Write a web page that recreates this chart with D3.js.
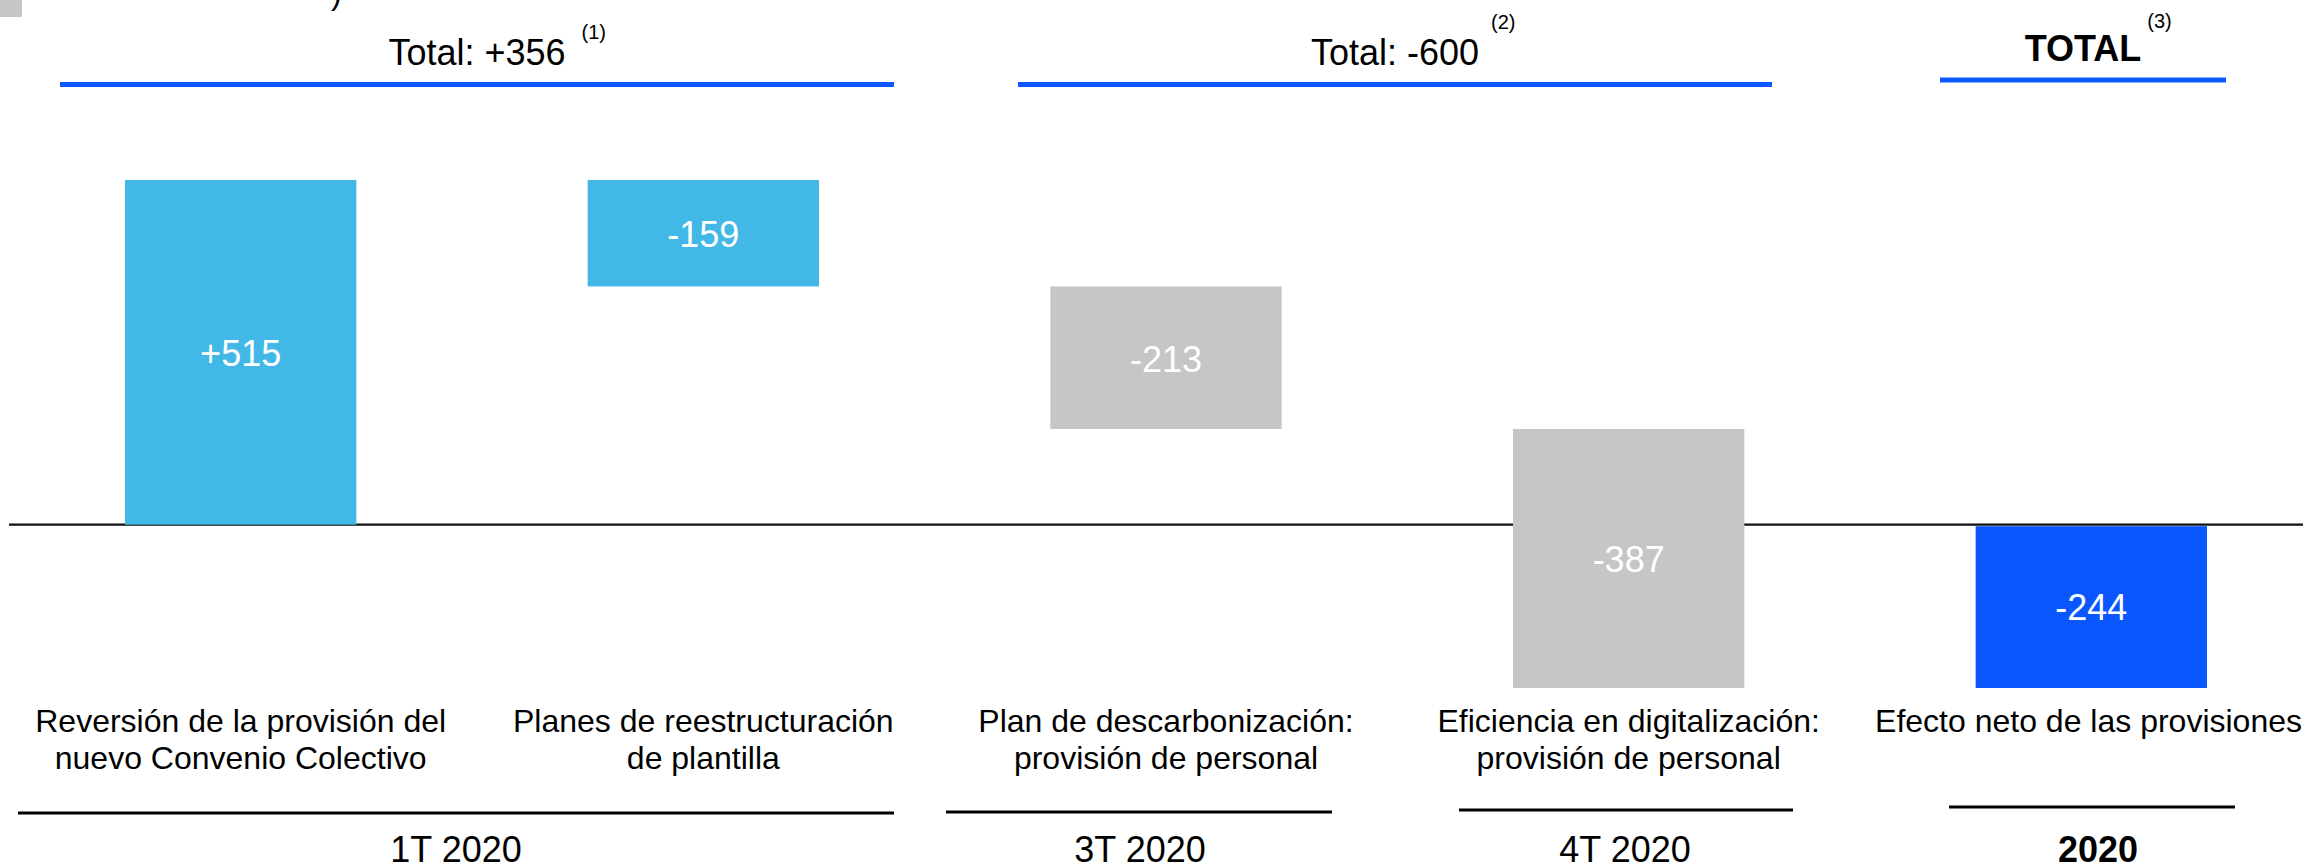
<!DOCTYPE html>
<html>
<head>
<meta charset="utf-8">
<script src="https://cdn.jsdelivr.net/npm/d3@7"></script>
<style>
  html, body { margin: 0; padding: 0; background: #ffffff; }
  svg { display: block; }
  text { font-family: "Liberation Sans", Arial, Helvetica, sans-serif; }
</style>
</head>
<body>
<svg id="chart" width="2303" height="867"></svg>
<script>
// ---------------- DATA ----------------
const categories = [
  ["Reversión de la provisión del", "nuevo Convenio Colectivo"],
  ["Planes de reestructuración", "de plantilla"],
  ["Plan de descarbonización:", "provisión de personal"],
  ["Eficiencia en digitalización:", "provisión de personal"],
  ["Efecto neto de las provisiones"]
];
const values = [515, -159, -213, -387, -244];
const barLabels = ["+515", "-159", "-213", "-387", "-244"];
const isTotal = [false, false, false, false, true];
const barKinds = ["h1", "h1", "h2", "h2", "total"];

const groupTitles = ["Total: +356", "Total: -600", "TOTAL"];
const groupNotes = ["(1)", "(2)", "(3)"];
const periods = ["1T 2020", "3T 2020", "4T 2020", "2020"];

// ---------------- STYLE / LAYOUT ----------------
const W = 2303, H = 867;
const colors = { h1: "#41B8E6", h2: "#C6C6C6", total: "#0A57FF" };
const lineBlue = "#0A57FF";

const headerLayout = [
  { x0: 60, x1: 894, y: 84.5, base: 65, noteBase: 39, noteGap: 16, bold: false },
  { x0: 1018, x1: 1772, y: 84.5, base: 65, noteBase: 29, noteGap: 12, bold: false },
  { x0: 1940, x1: 2226, y: 80, base: 61, noteBase: 28, noteGap: 6, bold: true }
];
const periodLayout = [
  { x0: 18, x1: 894, y: 813, cx: 456, bold: false },
  { x0: 946, x1: 1332, y: 812, cx: 1140, bold: false },
  { x0: 1459, x1: 1793, y: 810, cx: 1625, bold: false },
  { x0: 1949, x1: 2235, y: 807, cx: 2098, bold: true }
];

// ---------------- COMPUTE WATERFALL ----------------
let running = 0;
const bars = values.map((v, i) => {
  let start, end;
  if (isTotal[i]) { start = 0; end = v; running = v; }
  else { start = running; end = running + v; running = end; }
  return { i, v, start, end, label: barLabels[i], kind: barKinds[i], cat: categories[i] };
});

// ---------------- SCALES ----------------
const x = d3.scaleBand()
  .domain(d3.range(values.length))
  .range([125, 2207])
  .paddingInner(0.5)
  .paddingOuter(0);

const yMin = d3.min(bars, d => Math.min(d.start, d.end));
const yMax = d3.max(bars, d => Math.max(d.start, d.end));
const y = d3.scaleLinear().domain([yMin, yMax]).range([688, 180]);

const svg = d3.select("#chart");

// corner square & cut-off title remnant
svg.append("rect").attr("x", 0).attr("y", 0).attr("width", 22).attr("height", 17).attr("fill", "#C6C6C6");
svg.append("text").attr("x", 331).attr("y", 4).attr("font-size", 32).attr("fill", "#000").text(")");

// zero line
svg.append("line")
  .attr("x1", 9).attr("x2", W)
  .attr("y1", y(0)).attr("y2", y(0))
  .attr("stroke", "#111").attr("stroke-width", 2.3);

// bars
svg.selectAll("rect.bar")
  .data(bars)
  .join("rect")
  .attr("class", "bar")
  .attr("x", d => x(d.i))
  .attr("width", x.bandwidth())
  .attr("y", d => y(Math.max(d.start, d.end)) + (d.kind === "total" ? 1.5 : 0))
  .attr("height", d => Math.abs(y(d.start) - y(d.end)) - (d.kind === "total" ? 1.5 : 0))
  .attr("fill", d => colors[d.kind]);

// bar value labels
svg.selectAll("text.val")
  .data(bars)
  .join("text")
  .attr("class", "val")
  .attr("x", d => x(d.i) + x.bandwidth() / 2)
  .attr("y", d => (y(d.start) + y(d.end)) / 2 + 14)
  .attr("text-anchor", "middle")
  .attr("font-size", 36)
  .attr("fill", "#ffffff")
  .text(d => d.label);

// category labels
svg.selectAll("text.cat")
  .data(bars)
  .join("text")
  .attr("class", "cat")
  .attr("y", 732)
  .attr("text-anchor", "middle")
  .attr("font-size", 32)
  .attr("fill", "#000")
  .each(function (d) {
    const t = d3.select(this);
    d.cat.forEach((line, k) => {
      t.append("tspan")
        .attr("x", x(d.i) + x.bandwidth() / 2)
        .attr("dy", k === 0 ? 0 : 36.5)
        .text(line);
    });
    // keep the label inside the picture
    const bb = this.getBBox();
    if (bb.x + bb.width > W - 1) {
      const shift = bb.x + bb.width - (W - 1);
      t.selectAll("tspan").attr("x", x(d.i) + x.bandwidth() / 2 - shift);
    }
  });

// headers
headerLayout.forEach((h, i) => {
  svg.append("line")
    .attr("x1", h.x0).attr("x2", h.x1)
    .attr("y1", h.y).attr("y2", h.y)
    .attr("stroke", lineBlue).attr("stroke-width", 5);
  const cx = (h.x0 + h.x1) / 2;
  const t = svg.append("text")
    .attr("x", cx).attr("y", h.base)
    .attr("text-anchor", "middle")
    .attr("font-size", 36)
    .attr("font-weight", h.bold ? "bold" : "normal")
    .attr("fill", "#000")
    .text(groupTitles[i]);
  const w = t.node().getComputedTextLength();
  svg.append("text")
    .attr("x", cx + w / 2 + h.noteGap).attr("y", h.noteBase)
    .attr("font-size", 20)
    .attr("fill", "#000")
    .text(groupNotes[i]);
});

// period lines & labels
periodLayout.forEach((p, i) => {
  svg.append("line")
    .attr("x1", p.x0).attr("x2", p.x1)
    .attr("y1", p.y).attr("y2", p.y)
    .attr("stroke", "#000").attr("stroke-width", 3);
  svg.append("text")
    .attr("x", p.cx).attr("y", 862)
    .attr("text-anchor", "middle")
    .attr("font-size", 36)
    .attr("font-weight", p.bold ? "bold" : "normal")
    .attr("fill", "#000")
    .text(periods[i]);
});
</script>
</body>
</html>
